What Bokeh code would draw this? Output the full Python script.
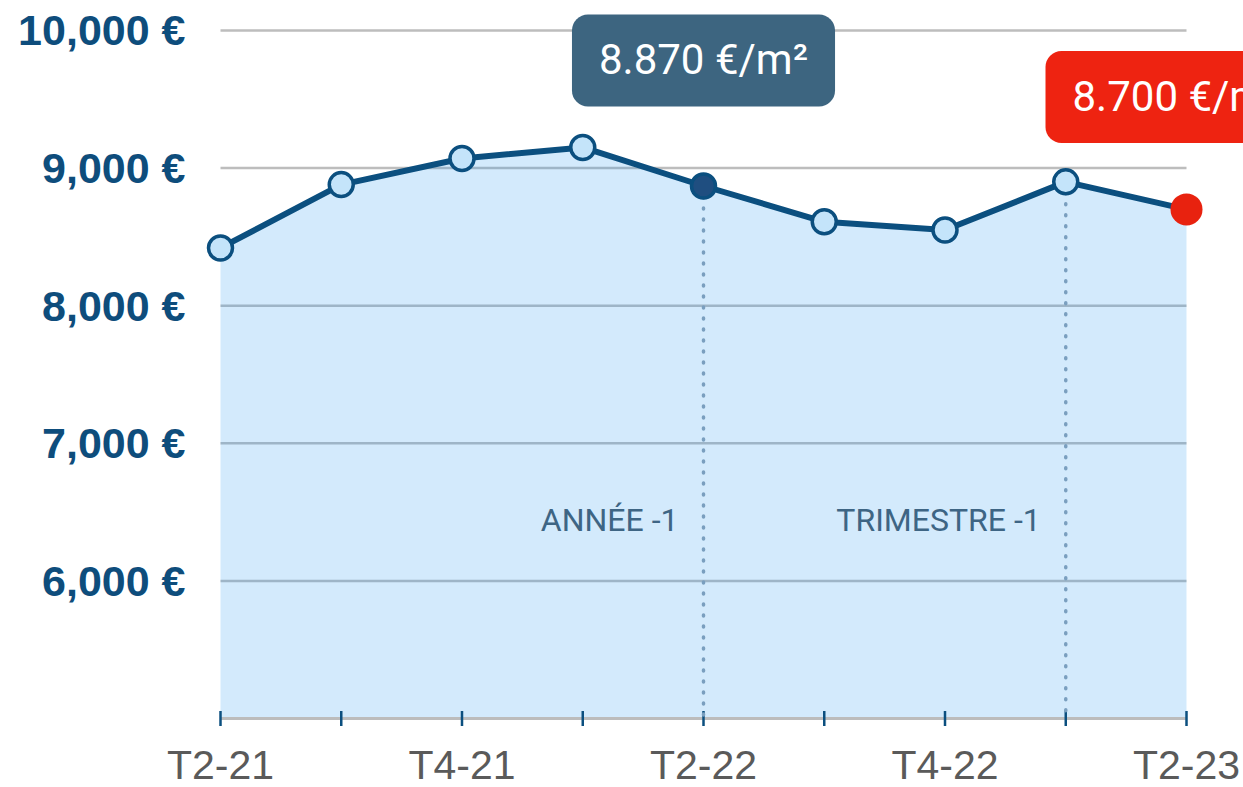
import math
from bokeh.plotting import figure
from bokeh.models import Range1d, Label
from bokeh.embed import file_html
from bokeh.resources import INLINE

quarters = ["T2-21", "T3-21", "T4-21", "T1-22", "T2-22", "T3-22", "T4-22", "T1-23", "T2-23"]
prices = [8420, 8880, 9070, 9150, 8870, 8610, 8550, 8900, 8700]
y_ticks = [6000, 7000, 8000, 9000, 10000]
y_tick_labels = ["6,000 €", "7,000 €", "8,000 €", "9,000 €", "10,000 €"]
year_ago_idx = 4
quarter_ago_idx = 7
current_idx = 8
year_ago_label = "8.870 €/m²"
current_label = "8.700 €/m²"
ref_labels = ["ANNÉE -1", "TRIMESTRE -1"]
y_base = 5000

DARK = "#0b4f7f"
x = list(range(len(quarters)))

p = figure(width=1243, height=787, output_backend="svg", toolbar_location=None,
           x_axis_location=None, y_axis_location=None,
           x_range=Range1d(-1.82195, 8.472), y_range=Range1d(4498.55, 10218),
           min_border_left=0, min_border_right=0, min_border_top=0, min_border_bottom=0)
p.outline_line_color = None
p.background_fill_color = "white"
p.border_fill_color = "white"
p.xgrid.visible = False
p.ygrid.visible = False

# horizontal grid lines spanning the data extent
p.segment(x0=[x[0]] * len(y_ticks), y0=y_ticks, x1=[x[-1]] * len(y_ticks), y1=y_ticks,
          line_color="#bdbdbd", line_width=2.5)

# y tick labels
p.text(x=[x[0]] * len(y_ticks), y=y_ticks, text=y_tick_labels, x_offset=-35,
       text_align="right", text_baseline="middle", text_font={"value": "Liberation Sans"},
       text_font_style="bold", text_font_size="43px", text_color="#0e4d7c")

# area
p.varea(x=x, y1=[y_base] * len(x), y2=prices, fill_color="#2396f0", fill_alpha=0.2)

# base axis line, ticks and tick labels
p.segment(x0=[x[0]], y0=[y_base], x1=[x[-1]], y1=[y_base], line_color="#bcbcbc", line_width=3)
p.scatter(x=x, y=[y_base] * len(x), marker="dash", angle=math.pi / 2, size=15,
          line_color=DARK, line_width=2.5)
shown = [i for i in x if i % 2 == 0]
p.text(x=shown, y=[y_base] * len(shown), text=[quarters[i] for i in shown], y_offset=46,
       text_align="center", text_baseline="middle", text_font={"value": "Liberation Sans"},
       text_font_size="41px", text_color="#5a5a5a")

# reference dotted lines
for idx, txt in zip([year_ago_idx, quarter_ago_idx], ref_labels):
    p.segment(x0=[idx], y0=[prices[idx]], x1=[idx], y1=[y_base],
              line_color="#7a9fbf", line_width=3.5, line_dash="1 10", line_cap="round")
    p.add_layout(Label(x=idx, y=6439, x_offset=-25, text=txt, text_align="right",
                       text_baseline="middle", text_font="Roboto", text_font_size="32px",
                       text_color="#3e6584"))

# line
p.line(x=x, y=prices, line_color=DARK, line_width=6, line_join="round")

# markers
normal = [i for i in x if i not in (year_ago_idx, current_idx)]
p.scatter(x=normal, y=[prices[i] for i in normal], size=24, fill_color="#c4e4fa",
          line_color=DARK, line_width=3.5)
p.scatter(x=[year_ago_idx], y=[prices[year_ago_idx]], size=24, fill_color="#1f4e80",
          line_color=DARK, line_width=3.5)
p.scatter(x=[current_idx], y=[prices[current_idx]], size=32, fill_color="#e8220f",
          line_color=None)

# value labels
p.add_layout(Label(x=year_ago_idx, y=9782, text=year_ago_label, text_align="center",
                   text_baseline="middle", text_font="Roboto", text_font_size="42px",
                   text_color="white", background_fill_color="#3d6580",
                   padding=dict(left=27, right=27, top=21, bottom=22), border_radius=16))
p.add_layout(Label(x=current_idx, y=9517, x_offset=-141, text=current_label, text_align="left",
                   text_baseline="middle", text_font="Roboto", text_font_size="42px",
                   text_color="white", background_fill_color="#ee2311",
                   padding=dict(left=27, right=27, top=21, bottom=22), border_radius=16))

open("out.html", "w").write(file_html(p, INLINE))
